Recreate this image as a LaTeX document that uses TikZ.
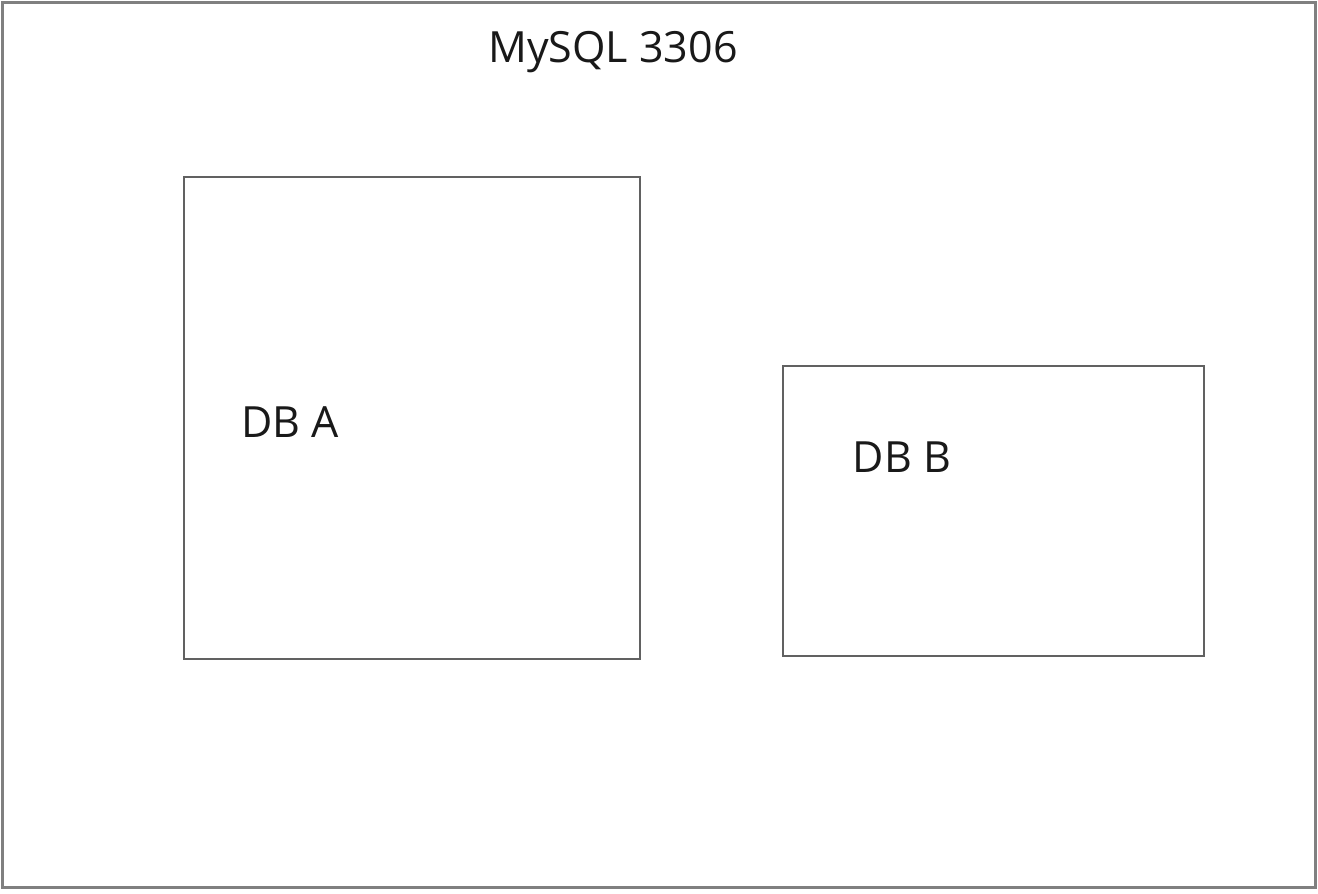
\documentclass[tikz,border=0pt]{standalone}
\usepackage{fontspec}
\setmainfont{Open Sans}
\begin{document}
\begin{tikzpicture}[x=1pt,y=-1pt,
  box/.style={draw=black!62,line width=2.8pt},
  outerbox/.style={draw=black!50,line width=3pt},
  lbl/.style={text=black!90,font=\fontsize{43}{48}\selectfont,inner sep=0pt}]
\useasboundingbox[fill=white] (0,0) rectangle (1318,894);
\draw[outerbox] (2,2) rectangle (1315,887);
\node[lbl] (mysql) at (613,52) {MySQL 3306};
\draw[box] (184,177) rectangle (640,659);
\draw[box] (783,366) rectangle (1204,656);
\node[lbl] (dba) at (290,422) {DB A};
\node[lbl] (dbb) at (902,457) {DB B};
\end{tikzpicture}
\end{document}
